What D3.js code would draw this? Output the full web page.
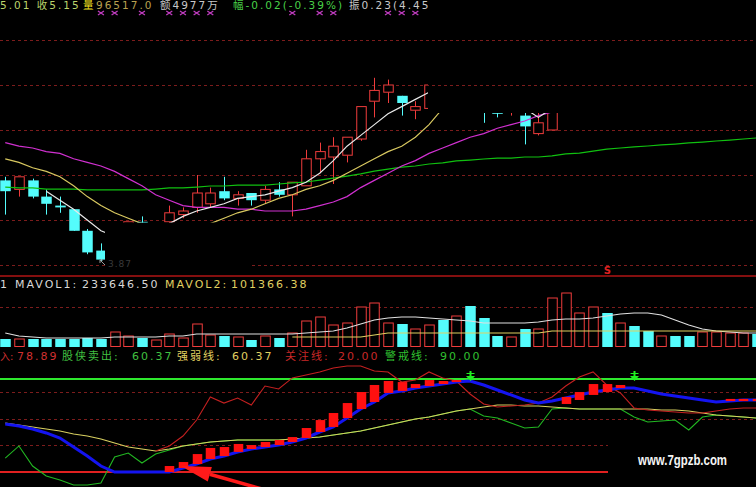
<!DOCTYPE html>
<html><head><meta charset="utf-8">
<script src="https://cdn.jsdelivr.net/npm/d3@7/dist/d3.min.js"></script>
<style>
html,body{margin:0;padding:0;background:#000;}
svg{display:block;}
text{font-family:"DejaVu Sans","Noto Sans CJK SC",sans-serif;font-size:11px;letter-spacing:2px;}
</style>
</head><body>
<svg id="c" width="756" height="487"></svg>
<script>
// ---------------- DATA ----------------
const days = d3.range(56);                       // bar index (category)
const open  = [4.32,4.27,4.32,4.23,4.18,4.16,4.04,3.93,3.90,3.97,4.09,3.98,4.09,4.13,4.17,4.19,4.26,4.22,4.25,4.21,4.27,4.24,4.29,4.44,4.45,4.46,4.55,4.76,4.81,4.79,4.71,4.72,4.95,4.88,5.00,4.95,4.85,4.72,4.68,4.58,4.60];
const high  = [4.34,4.34,4.33,4.27,4.23,4.16,4.05,3.97,4.00,4.09,4.12,4.08,4.18,4.17,4.35,4.28,4.34,4.26,4.25,4.29,4.31,4.31,4.49,4.53,4.56,4.56,4.73,4.89,4.88,4.79,4.76,4.85,4.98,5.02,5.03,4.98,4.88,4.88,4.72,4.70,4.82];
const low   = [4.13,4.23,4.22,4.13,4.14,4.04,3.91,3.87,3.88,3.95,3.98,3.96,4.08,4.11,4.14,4.17,4.21,4.18,4.18,4.19,4.23,4.12,4.29,4.36,4.30,4.42,4.54,4.67,4.75,4.68,4.66,4.72,4.85,4.86,4.86,4.64,4.67,4.68,4.52,4.57,4.60];
const close = [4.26,4.34,4.23,4.19,4.17,4.04,3.92,3.88,3.98,4.09,4.00,4.06,4.14,4.15,4.25,4.25,4.22,4.24,4.21,4.27,4.24,4.31,4.44,4.48,4.51,4.56,4.73,4.82,4.85,4.75,4.73,4.85,4.88,4.98,4.90,4.80,4.69,4.85,4.62,4.64,4.78];
const ma5  = [null,null,null,4.26,4.21,4.16,4.10,4.04,4.01,4.01,4.03,4.06,4.08,4.12,4.15,4.17,4.19,4.22,4.23,4.24,4.26,4.28,4.31,4.36,4.43,4.51,4.57,4.63,4.69,4.73,4.77,4.81,4.83,4.84,4.83,4.80,4.77,4.74,4.72,4.67,4.72];
const ma10 = [4.44,4.42,4.39,4.37,4.34,4.29,4.23,4.18,4.14,4.11,4.08,4.07,4.06,4.06,4.07,4.08,4.11,4.14,4.16,4.19,4.22,4.24,4.27,4.29,4.32,4.36,4.40,4.44,4.48,4.51,4.56,4.63,4.72,4.76,4.79,4.81,4.82,4.82,4.81,4.80,4.79];
const ma30 = [4.53,4.51,4.50,4.48,4.47,4.44,4.42,4.40,4.37,4.33,4.29,4.24,4.21,4.18,4.17,4.17,4.17,4.16,4.16,4.15,4.15,4.15,4.16,4.18,4.20,4.23,4.28,4.32,4.36,4.40,4.43,4.47,4.50,4.53,4.56,4.58,4.61,4.63,4.65,4.68,4.70];
const ma60 = [4.283,4.278,4.278,4.272,4.272,4.272,4.267,4.267,4.267,4.267,4.267,4.272,4.278,4.278,4.283,4.289,4.289,4.294,4.294,4.294,4.300,4.306,4.311,4.322,4.333,4.344,4.356,4.372,4.383,4.394,4.400,4.411,4.417,4.428,4.433,4.439,4.444,4.444,4.450,4.450,4.456,4.467,4.472,4.483,4.494,4.500,4.506,4.511,4.517,4.522,4.528,4.533,4.539,4.544,4.550,4.556];
const priceTicks = [3.85,4.10,4.35,4.60,4.85,5.10];
const markIdx = [7,8,10,12,13,14,15,21,23,24,28,29,30];   // magenta markers

const volume = [80000,80000,80000,80000,80000,80000,90000,80000,150000,110000,90000,70000,130000,90000,230000,120000,110000,100000,70000,110000,90000,140000,260000,300000,220000,240000,400000,440000,240000,230000,180000,220000,270000,310000,410000,290000,110000,100000,180000,180000,490000,540000,340000,400000,340000,240000,210000,160000,110000,110000,110000,150000,150000,140000,140000,130000];
const upDay  = [0,1,0,0,0,0,0,0,1,1,0,1,1,1,1,1,0,1,0,1,0,1,1,1,1,1,1,1,1,0,1,1,0,1,0,0,0,1,0,1,1,1,1,1,0,1,0,0,1,0,0,1,1,1,1,0];
const mavol1 = [140000,110000,100000,90000,90000,90000,90000,90000,100000,100000,100000,100000,110000,110000,130000,130000,130000,130000,130000,130000,130000,130000,140000,150000,160000,190000,230000,270000,290000,300000,300000,290000,280000,270000,260000,240000,240000,240000,240000,250000,270000,280000,280000,290000,310000,330000,340000,340000,320000,270000,220000,180000,160000,150000,140000,140000];
const mavol2 = [null,null,null,null,null,null,null,null,null,null,null,null,null,null,null,null,null,null,null,null,null,100000,100000,100000,100000,100000,100000,120000,140000,140000,140000,140000,140000,140000,140000,140000,140000,140000,140000,140000,160000,160000,160000,160000,160000,160000,160000,160000,160000,160000,160000,160000,160000,160000,160000,160000];
const volTicks = [400000];

const buyLine  = [null,null,null,null,null,null,null,null,null,null,null,35.8,39.6,47.1,59.1,76.5,71.9,75.7,70.4,84.7,82.5,90.8,93.0,95.3,98.3,99.8,99.8,96.0,95.3,87.7,89.2,95.3,90.8,88.5,78.7,71.2,68.9,69.7,70.4,71.9,76.5,84.7,91.5,95.3,85.5,79.5,68.2,66.7,65.9,65.2,64.4,64.4,65.9,67.4,68.2,68.2];
const sellLine = [30.5,39.6,24.5,17.0,14.0,10.2,10.2,11.7,31.3,34.3,26.8,33.5,36.6,39.6,41.1,42.6,43.3,44.1,44.1,44.1,44.1,44.8,45.6,46.3,47.8,49.4,50.9,53.1,55.4,57.6,59.9,61.4,63.7,65.9,67.4,62.2,60.6,56.9,53.1,53.9,67.4,68.2,67.4,67.4,67.4,67.4,61.4,57.6,58.4,59.1,51.6,61.4,62.9,62.2,61.4,60.6];
const strength = [56.9,55.4,53.9,52.4,50.9,48.6,47.1,44.8,41.8,38.8,37.3,35.8,37.3,39.6,41.1,42.6,43.3,44.1,44.1,44.1,44.1,44.8,45.6,46.3,47.8,49.4,50.9,53.1,55.4,57.6,59.9,61.4,63.7,65.9,67.4,68.9,70.4,70.4,69.7,69.7,68.9,68.2,67.4,67.4,67.4,67.4,67.4,67.4,66.7,66.7,65.9,64.4,62.9,62.2,61.4,60.6];
const trend = [56.1,54.6,52.4,49.4,45.6,38.8,32.0,24.5,20.0,20.0,20.0,20.0,20.0,23.0,26.0,29.8,32.0,35.1,37.3,38.8,40.3,42.6,45.6,50.1,53.9,60.6,67.4,72.7,79.5,81.0,83.2,84.7,86.2,87.7,88.5,85.5,81.7,78.0,74.2,71.9,73.4,75.7,78.0,80.2,81.7,83.2,83.2,81.0,78.7,77.2,75.7,74.2,72.7,73.4,74.2,74.2];
const barLo = [null,null,null,null,null,null,null,null,null,null,null,null,20.0,23.0,26.0,29.8,32.0,35.1,37.3,38.8,40.3,42.6,45.6,50.1,53.9,60.6,67.4,72.7,79.5,81.0,83.2,84.7,86.2,87.7,null,null,null,null,null,null,null,71.2,74.2,78.0,80.2,83.2,null,null,null,null,null,null,null,73.4,73.4,73.4];
const barHi = [null,null,null,null,null,null,null,null,null,null,null,null,24.5,27.5,33.5,38.1,38.8,41.1,40.3,42.6,44.1,46.3,53.1,59.1,64.4,71.9,80.2,85.5,88.5,87.7,86.2,89.2,88.5,89.2,null,null,null,null,null,null,null,76.5,80.2,86.2,86.2,85.5,null,null,null,null,null,null,null,75.0,75.0,75.0];
const sellIdx = [34,46];
const watchLevel = 20, alertLevel = 90;
const indTicks = [40,60,80];

const hdr1 = [["5.01 收5.15","#bcd46c",0],["量","#f0e020",83],["96517.0","#b8a050",96],["额4977万","#c8c8c8",160],["幅-0.02(-0.39%)","#48d048",233],["振0.23(4.45","#c8c8c8",349]];
const hdr2 = [["1","#d8d8d8",0],["MAVOL1:","#d8d8d8",15],["233646.50","#d8d8d8",82],["MAVOL2:","#e0d060",165],["101366.38","#e0d060",231]];
const hdr3 = [["78.89","#d03030",17],["股侠卖出:","#40c040",62],["60.37","#40c040",132],["强弱线:","#e0d060",177],["60.37","#e0d060",232],["关注线:","#c82828",285],["20.00","#c82828",338],["警戒线:","#30c030",385],["90.00","#30c030",440]];

// ---------------- CHART ----------------
const W = 756, H = 487;
const RED = "#f03c3c", CYAN = "#54fcfc";
const svg = d3.select("#c");
svg.append("rect").attr("width",W).attr("height",H).attr("fill","#000");

const x  = d3.scaleLinear().domain([0,55]).range([5.25,757.1]);
const bw = 10.5;
const yP = d3.scaleLinear().domain([3.85,5.10]).range([265,40]);
const yV = d3.scaleLinear().domain([0,600000]).range([347,287]);
const yI = d3.scaleLinear().domain([20,90]).range([472,379]);
const cx = i => Math.round(x(i)) + 0.5;

const defs = svg.append("defs");
defs.append("clipPath").attr("id","clipData").append("path")
  .attr("clip-rule","evenodd")
  .attr("d","M0,0H756V275H0Z M428,0H756V113H428Z M105,222.5H250V275H105Z");
defs.append("clipPath").attr("id","clipGrid").append("path")
  .attr("clip-rule","evenodd")
  .attr("d","M0,0H756V275H0Z M105,222.5H250V275H105Z");

const GRID = "#7c1c1c";
// price grid
svg.append("g").attr("clip-path","url(#clipGrid)").selectAll("line").data(priceTicks).join("line")
  .attr("x1",0).attr("x2",W).attr("y1",d=>Math.round(yP(d))+0.5).attr("y2",d=>Math.round(yP(d))+0.5)
  .attr("stroke",GRID).attr("stroke-dasharray","3,3");
svg.append("line").attr("x1",0).attr("x2",W).attr("y1",276).attr("y2",276).attr("stroke","#b01414").attr("stroke-width",1.5);

// candles
const gc = svg.append("g").attr("clip-path","url(#clipData)");
days.forEach(i=>{
  if (open[i]==null) return;
  const o=open[i], c=close[i], h=high[i], l=low[i];
  const up = c>=o, col = up?RED:CYAN, X = cx(i);
  const top = yP(Math.max(o,c)), bot = yP(Math.min(o,c));
  const bh = Math.max(1, bot-top);
  if (up) {
    gc.append("line").attr("x1",X).attr("x2",X).attr("y1",yP(h)).attr("y2",top).attr("stroke",col);
    gc.append("line").attr("x1",X).attr("x2",X).attr("y1",top+bh).attr("y2",yP(l)).attr("stroke",col);
    gc.append("rect").attr("x",X-bw/2+0.5).attr("y",top).attr("width",bw-1).attr("height",bh)
      .attr("fill","#000").attr("stroke",col);
  } else {
    gc.append("line").attr("x1",X).attr("x2",X).attr("y1",yP(h)).attr("y2",yP(l)).attr("stroke",col);
    gc.append("rect").attr("x",X-bw/2).attr("y",top).attr("width",bw).attr("height",bh).attr("fill",col);
  }
});
const maLine = (arr, yS) => d3.line().defined(d=>d!=null).x((d,i)=>x(i)).y(d=>yS(d))(arr);
[[ma60,"#10c010"],[ma30,"#d030d0"],[ma10,"#d8c860"],[ma5,"#e8e8e8"]].forEach(([a,c])=>{
  gc.append("path").attr("d",maLine(a,yP)).attr("fill","none").attr("stroke",c).attr("stroke-width",1.2);
});

// markers on top
svg.append("g").selectAll("path").data(markIdx).join("path")
  .attr("d",i=>{const X=x(i),Y=13;return `M${X-3},${Y-2}L${X+3},${Y+2}M${X-3},${Y+2}L${X+3},${Y-2}`;})
  .attr("stroke","#c03cc0").attr("stroke-width",1.3);
// low label
svg.append("path").attr("d","M100,260L105,265M100,260L100,263M100,260L103,260").attr("stroke","#999");
svg.append("text").attr("x",108).attr("y",267).attr("fill","#3a3a3a").style("font-size","9px").style("letter-spacing","1px").text("3.87");
// S signal
svg.append("text").attr("x",x(44)-3).attr("y",274).attr("fill","#e02020").style("font-size","10px").style("font-weight","bold").style("letter-spacing","0").text("S");

// volume
svg.append("g").selectAll("line").data(volTicks).join("line")
  .attr("x1",0).attr("x2",W).attr("y1",d=>Math.round(yV(d))+0.5).attr("y2",d=>Math.round(yV(d))+0.5)
  .attr("stroke",GRID).attr("stroke-dasharray","3,3");
const gv = svg.append("g");
days.forEach(i=>{
  const X = cx(i), t = yV(volume[i]), b = yV(0);
  if (upDay[i]) gv.append("rect").attr("x",X-bw/2+0.5).attr("y",t).attr("width",bw-1).attr("height",b-t-0.5).attr("fill","#000").attr("stroke",RED);
  else gv.append("rect").attr("x",X-bw/2).attr("y",t).attr("width",bw).attr("height",b-t).attr("fill",CYAN);
});
gv.append("path").attr("d",maLine(mavol1,yV)).attr("fill","none").attr("stroke","#e0e0e0").attr("stroke-width",1.1);
gv.append("path").attr("d",maLine(mavol2,yV)).attr("fill","none").attr("stroke","#e0d060").attr("stroke-width",1.1);

// indicator
svg.append("g").selectAll("line").data(indTicks).join("line")
  .attr("x1",0).attr("x2",d=>d<50?608:W).attr("y1",d=>Math.round(yI(d))+0.5).attr("y2",d=>Math.round(yI(d))+0.5)
  .attr("stroke",GRID).attr("stroke-dasharray","3,3");
svg.append("line").attr("x1",0).attr("x2",W).attr("y1",yI(alertLevel)).attr("y2",yI(alertLevel)).attr("stroke","#2ee82e").attr("stroke-width",2);
svg.append("line").attr("x1",0).attr("x2",608).attr("y1",yI(watchLevel)).attr("y2",yI(watchLevel)).attr("stroke","#e02020").attr("stroke-width",2);
const gi = svg.append("g");
gi.append("path").attr("d",maLine(sellLine,yI)).attr("fill","none").attr("stroke","#22b822").attr("stroke-width",1.1);
gi.append("path").attr("d",maLine(strength,yI)).attr("fill","none").attr("stroke","#d8d060").attr("stroke-width",1.1);
gi.append("path").attr("d",maLine(buyLine,yI)).attr("fill","none").attr("stroke","#c42020").attr("stroke-width",1.1);
gi.append("path").attr("d",maLine(trend,yI)).attr("fill","none").attr("stroke","#1414f0").attr("stroke-width",3);
days.forEach(i=>{
  if (barLo[i]==null) return;
  const t=yI(barHi[i]), b=yI(barLo[i]);
  gi.append("rect").attr("x",cx(i)-4.75).attr("y",t).attr("width",9.5).attr("height",Math.max(2,b-t)).attr("fill","#ff1010");
});
gi.selectAll("path.sig").data(sellIdx).join("path").attr("class","sig")
  .attr("d",i=>{const X=cx(i),Y=yI(alertLevel);return `M${X-1},${Y-8}H${X+1}V${Y-3}H${X+4.5}L${X},${Y+2}L${X-4.5},${Y-3}H${X-1}Z M${X-4},${Y-6}H${X+4}V${Y-5}H${X-4}Z`;})
  .attr("fill","#20f020");

// annotation arrow pointing to first red bar
(function(){
  const tx = x(13)-2, ty = yI(barLo[13])-2;
  const dx=-0.962, dy=-0.273, L=30, hw=7.5;
  const bxc=tx-L*dx, byc=ty-L*dy, px=-dy, py=dx;
  svg.append("path").attr("d",`M${tx},${ty}L${bxc+hw*px},${byc+hw*py}L${bxc-hw*px},${byc-hw*py}Z`).attr("fill","#ff1a1a");
  svg.append("line").attr("x1",bxc).attr("y1",byc).attr("x2",bxc+60).attr("y2",byc+60*dy/dx).attr("stroke","#ff1a1a").attr("stroke-width",3.5);
})();

// watermark
svg.append("text").attr("x",638).attr("y",465).attr("fill","#f4f4f4")
  .attr("textLength",89).attr("lengthAdjust","spacingAndGlyphs")
  .style("font-family","'Liberation Sans',Arial,sans-serif").style("font-weight","bold").style("font-size","14px").style("letter-spacing","0")
  .text("www.7gpzb.com");

// header texts
const hdr = (arr,y,fs)=>svg.append("g").selectAll("text").data(arr).join("text")
  .attr("x",d=>d[2]).attr("y",y).attr("fill",d=>d[1]).style("font-size",fs).text(d=>d[0]);
hdr(hdr1,9,"10.5px"); hdr(hdr2,288,"11px"); hdr(hdr3,360,"11px");
svg.append("text").attr("x",0).attr("y",360).attr("fill","#d03030").style("font-size","10px").style("letter-spacing","0").text("入:");
</script>
</body></html>
